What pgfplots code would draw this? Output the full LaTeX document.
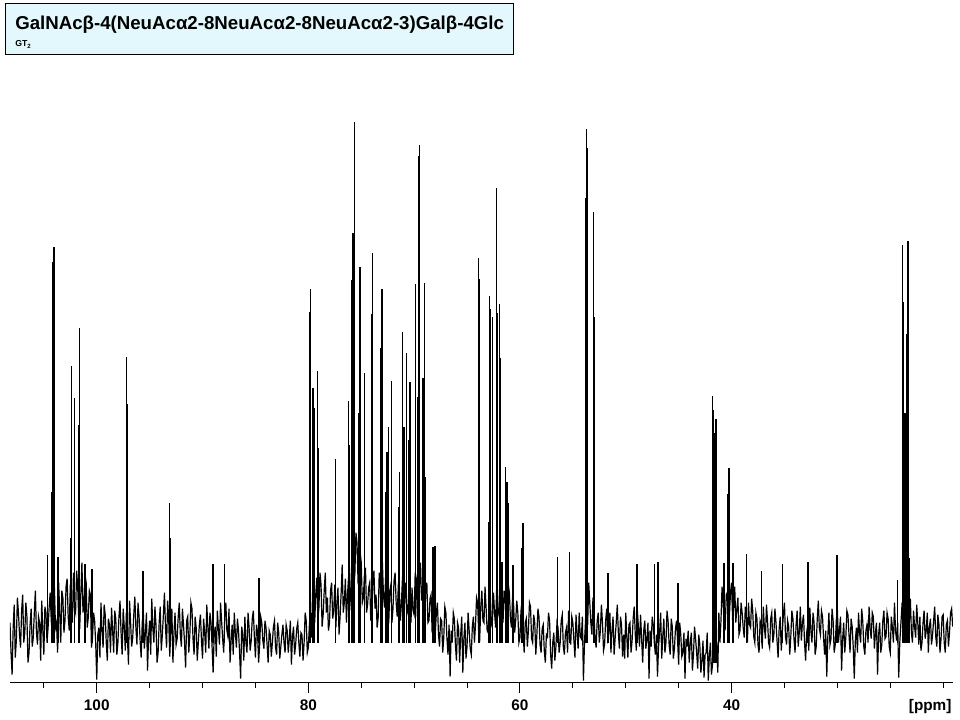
\documentclass[border=0pt]{standalone}
\usepackage{fontspec}
\setmainfont{Liberation Sans}
\usepackage{pgfplots}
\pgfplotsset{compat=1.18}
\definecolor{boxfill}{RGB}{226,248,252}

% peak lines: position (ppm), foot and top (px above the axis line)
\pgfplotstableread{
x      b   t
104.66 40 128
104.22 40 191
104.13 40 421
104.04 40 436
103.66 40 126
102.49 40 145
102.39 40 317
102.08 40 285
101.70 40 258
101.61 40 355
101.13 40 119
100.47 40 114
97.19  40 326
97.07  40 279
95.62  40 112
93.10  40 180
93.04  40 145
89.01  40 119
87.90  40 119
84.66  40 105
79.87  40 371
79.81  40 394
79.56  40 295
79.47  40 275
79.14  40 312
79.05  40 235
77.44  40 224
76.19  40 282
76.09  40 238
75.90  40 403
75.78  40 450
75.70  40 420
75.62  40 561
75.21  40 270
75.12  40 416
75.05  40 357
74.67  40 310
74.01  40 369
73.92  40 430
73.16  40 335
73.04  40 394
72.69  40 191
72.57  40 231
72.41  40 256
72.15  40 302
71.49  40 176
71.39  40 211
71.08  40 351
70.96  40 256
70.70  40 330
70.54  40 243
70.39  40 301
69.88  40 399
69.69  40 286
69.57  40 527
69.48  40 538
69.17  40 305
69.03  40 400
68.98  40 206
68.22  40 136
68.03  40 137
63.90  40 425
63.83  40 404
62.93  40 161
62.86  40 387
62.77  40 374
62.61  40 366
62.23  40 495
62.15  40 370
61.94  40 379
61.85  40 325
61.70  40 121
61.35  40 216
61.23  40 201
61.09  40 180
60.66  40 118
59.81  40 135
59.71  40 160
56.46  40 126
55.30  40 131
53.79  40 485
53.72  40 554
53.63  40 535
53.03  40 471
52.97  40 366
51.68  40 110
48.94  40 119
47.27  40 119
46.96  40 121
45.07  40 100
41.80  20 287
41.70  20 273
41.58  20 250
41.48  20 264
40.73  40 120
40.66  40 120
40.35  40 189
40.25  40 215
40.19  40 135
39.87  40 120
38.60  40 129
37.19  40 112
35.20  40 119
32.78  40 121
30.04  40 128
24.33  40 103
23.86  40 438
23.77  40 381
23.72  40 270
23.62  40 265
23.52  40 270
23.45  40 268
23.42  40 349
23.33  40 442
23.17  40 125
}\peaks

\begin{document}
\begin{tikzpicture}
\useasboundingbox (0,0) rectangle (720pt,-540pt);
\draw[line width=0.75pt, fill=boxfill] (3.75pt,-3pt) rectangle (384.75pt,-41.25pt);
\node[anchor=base west, inner sep=0, font=\bfseries\fontsize{14}{16}\selectfont]
  at (11.25pt,-22pt) {GalNAcβ-4(NeuAcα2-8NeuAcα2-8NeuAcα2-3)Galβ-4Glc};
\node[anchor=base west, inner sep=0, font=\bfseries\fontsize{6.5}{7}\selectfont]
  at (11.25pt,-35.25pt) {GT\textsubscript{2}};

\begin{axis}[
  at={(7.5pt,-512pt)}, anchor=south west,
  scale only axis, width=707.25pt, height=437pt,
  x dir=reverse, xmin=19.07, xmax=108.2, ymin=0, ymax=582.7,
  axis x line*=bottom, axis y line=none,
  x axis line style={-, line width=0.75pt},
  xtick={100,80,60,40}, xticklabels={100,80,60,40},
  minor xtick={105,95,90,85,75,70,65,55,50,45,35,30,25,20},
  tick align=outside, major tick length=7.5pt, minor tick length=4pt,
  tick style={black, line width=0.75pt},
  xticklabel style={font=\bfseries\fontsize{11.5}{12}\selectfont, anchor=base, yshift=-13pt},
  ytick=\empty,
]
\addplot[black, line width=0.9pt] coordinates {
(108.2,60) (108.1,30) (108.0,8) (107.9,55) (107.8,78) (107.7,25) (107.6,42) (107.5,85) (107.4,70) (107.3,48)
(107.2,35) (107.1,72) (107.0,88) (106.9,40) (106.8,50) (106.7,80) (106.6,66) (106.5,20) (106.4,30) (106.3,58)
(106.2,74) (106.1,36) (106.0,45) (105.9,70) (105.8,92) (105.7,50) (105.6,38) (105.5,66) (105.4,60) (105.3,22)
(105.2,82) (105.1,54) (105.0,28) (104.9,76) (104.8,70) (104.7,40) (104.6,55) (104.5,75) (104.4,90) (104.3,62)
(104.2,48) (104.1,82) (104.0,95) (103.9,55) (103.8,60) (103.7,30) (103.6,100) (103.5,70) (103.4,40) (103.3,92)
(103.2,85) (103.1,50) (103.0,62) (102.9,96) (102.8,104) (102.7,66) (102.6,52) (102.5,98) (102.4,78) (102.3,60)
(102.2,110) (102.1,75) (102.0,70) (101.9,112) (101.8,96) (101.7,62) (101.6,58) (101.5,90) (101.4,120) (101.3,70)
(101.2,80) (101.1,108) (101.0,100) (100.9,55) (100.8,65) (100.7,92) (100.6,88) (100.5,35) (100.4,45) (100.3,70)
(100.2,62) (100.1,40) (100.0,3) (99.9,48) (99.8,55) (99.7,25) (99.6,80) (99.5,52) (99.4,35) (99.3,78)
(99.2,68) (99.1,40) (99.0,22) (98.9,64) (98.8,58) (98.7,30) (98.6,75) (98.5,52) (98.4,30) (98.3,72)
(98.2,64) (98.1,28) (98.0,40) (97.9,66) (97.8,82) (97.7,50) (97.6,28) (97.5,74) (97.4,56) (97.3,32)
(97.2,70) (97.1,45) (97.0,18) (96.9,82) (96.8,60) (96.7,36) (96.6,45) (96.5,68) (96.4,86) (96.3,55)
(96.2,38) (96.1,80) (96.0,66) (95.9,42) (95.8,25) (95.7,60) (95.6,72) (95.5,34) (95.4,50) (95.3,70)
(95.2,12) (95.1,46) (95.0,62) (94.9,28) (94.8,84) (94.7,55) (94.6,40) (94.5,76) (94.4,58) (94.3,20)
(94.2,30) (94.1,60) (94.0,76) (93.9,32) (93.8,48) (93.7,68) (93.6,90) (93.5,55) (93.4,35) (93.3,82)
(93.2,64) (93.1,26) (93.0,52) (92.9,74) (92.8,20) (92.7,50) (92.6,70) (92.5,38) (92.4,44) (92.3,66)
(92.2,80) (92.1,48) (92.0,36) (91.9,74) (91.8,58) (91.7,40) (91.6,15) (91.5,62) (91.4,66) (91.3,30)
(91.2,48) (91.1,80) (91.0,74) (90.9,44) (90.8,28) (90.7,66) (90.6,55) (90.5,22) (90.4,40) (90.3,58)
(90.2,68) (90.1,42) (90.0,24) (89.9,64) (89.8,50) (89.7,30) (89.6,78) (89.5,56) (89.4,34) (89.3,70)
(89.2,60) (89.1,36) (89.0,10) (88.9,48) (88.8,56) (88.7,26) (88.6,72) (88.5,54) (88.4,38) (88.3,80)
(88.2,62) (88.1,44) (88.0,30) (87.9,66) (87.8,80) (87.7,52) (87.6,46) (87.5,74) (87.4,20) (87.3,42)
(87.2,58) (87.1,28) (87.0,70) (86.9,50) (86.8,35) (86.7,64) (86.6,52) (86.5,30) (86.4,4) (86.3,56)
(86.2,48) (86.1,22) (86.0,66) (85.9,40) (85.8,30) (85.7,70) (85.6,55) (85.5,32) (85.4,42) (85.3,64)
(85.2,72) (85.1,45) (85.0,25) (84.9,58) (84.8,50) (84.7,20) (84.6,38) (84.5,66) (84.4,60) (84.3,42)
(84.2,34) (84.1,62) (84.0,55) (83.9,38) (83.8,20) (83.7,52) (83.6,48) (83.5,26) (83.4,40) (83.3,56)
(83.2,62) (83.1,35) (83.0,28) (82.9,60) (82.8,50) (82.7,24) (82.6,36) (82.5,48) (82.4,58) (82.3,40)
(82.2,30) (82.1,58) (82.0,52) (81.9,30) (81.8,44) (81.7,62) (81.6,18) (81.5,46) (81.4,56) (81.3,28)
(81.2,38) (81.1,54) (81.0,60) (80.9,40) (80.8,26) (80.7,50) (80.6,48) (80.5,22) (80.4,40) (80.3,70)
(80.2,62) (80.1,30) (80.0,35) (79.9,58) (79.8,70) (79.7,45) (79.6,90) (79.5,72) (79.4,60) (79.3,88)
(79.2,105) (79.1,64) (79.0,75) (78.9,110) (78.8,98) (78.7,56) (78.6,68) (78.5,92) (78.4,110) (78.3,70)
(78.2,85) (78.1,52) (78.0,60) (77.9,92) (77.8,100) (77.7,64) (77.6,72) (77.5,98) (77.4,55) (77.3,80)
(77.2,95) (77.1,48) (77.0,66) (76.9,90) (76.8,118) (76.7,70) (76.6,80) (76.5,104) (76.4,60) (76.3,88)
(76.2,105) (76.1,72) (76.0,90) (75.9,120) (75.8,130) (75.7,96) (75.6,110) (75.5,150) (75.4,140) (75.3,100)
(75.2,95) (75.1,130) (75.0,120) (74.9,80) (74.8,85) (74.7,108) (74.6,115) (74.5,70) (74.4,78) (74.3,95)
(74.2,100) (74.1,62) (74.0,70) (73.9,98) (73.8,112) (73.7,74) (73.6,88) (73.5,55) (73.4,65) (73.3,110)
(73.2,96) (73.1,70) (73.0,120) (72.9,88) (72.8,75) (72.7,105) (72.6,90) (72.5,58) (72.4,60) (72.3,92)
(72.2,98) (72.1,60) (72.0,74) (71.9,102) (71.8,110) (71.7,80) (71.6,66) (71.5,96) (71.4,92) (71.3,62)
(71.2,80) (71.1,106) (71.0,58) (70.9,84) (70.8,100) (70.7,68) (70.6,72) (70.5,94) (70.4,85) (70.3,60)
(70.2,95) (70.1,72) (70.0,68) (69.9,110) (69.8,104) (69.7,66) (69.6,78) (69.5,96) (69.4,120) (69.3,82)
(69.2,90) (69.1,115) (69.0,70) (68.9,92) (68.8,100) (68.7,60) (68.6,62) (68.5,84) (68.4,88) (68.3,50)
(68.2,72) (68.1,42) (68.0,50) (67.9,70) (67.8,80) (67.7,48) (67.6,36) (67.5,64) (67.4,62) (67.3,30)
(67.2,45) (67.1,76) (67.0,70) (66.9,44) (66.8,28) (66.7,58) (66.6,6) (66.5,52) (66.4,40) (66.3,70)
(66.2,64) (66.1,38) (66.0,22) (65.9,60) (65.8,55) (65.7,20) (65.6,48) (65.5,66) (65.4,10) (65.3,44)
(65.2,60) (65.1,24) (65.0,36) (64.9,70) (64.8,52) (64.7,34) (64.6,28) (64.5,56) (64.4,66) (64.3,40)
(64.2,58) (64.1,85) (64.0,80) (63.9,50) (63.8,45) (63.7,76) (63.6,92) (63.5,62) (63.4,60) (63.3,96)
(63.2,75) (63.1,52) (63.0,50) (62.9,80) (62.8,88) (62.7,58) (62.6,62) (62.5,90) (62.4,70) (62.3,55)
(62.2,95) (62.1,66) (62.0,72) (61.9,100) (61.8,105) (61.7,78) (61.6,60) (61.5,92) (61.4,85) (61.3,58)
(61.2,68) (61.1,98) (61.0,90) (60.9,64) (60.8,55) (60.7,86) (60.6,78) (60.5,50) (60.4,62) (60.3,82)
(60.2,70) (60.1,40) (60.0,45) (59.9,72) (59.8,82) (59.7,50) (59.6,30) (59.5,60) (59.4,64) (59.3,36)
(59.2,52) (59.1,80) (59.0,76) (58.9,44) (58.8,40) (58.7,68) (58.6,60) (58.5,28) (58.4,48) (58.3,74)
(58.2,66) (58.1,38) (58.0,30) (57.9,54) (57.8,58) (57.7,32) (57.6,20) (57.5,48) (57.4,46) (57.3,70)
(57.2,62) (57.1,28) (57.0,14) (56.9,40) (56.8,50) (56.7,22) (56.6,36) (56.5,60) (56.4,55) (56.3,30)
(56.2,40) (56.1,62) (56.0,68) (55.9,36) (55.8,28) (55.7,50) (55.6,55) (55.5,30) (55.4,72) (55.3,48)
(55.2,38) (55.1,66) (55.0,60) (54.9,42) (54.8,25) (54.7,68) (54.6,50) (54.5,34) (54.4,70) (54.3,46)
(54.2,44) (54.1,66) (54.0,2) (53.9,40) (53.8,62) (53.7,90) (53.6,58) (53.5,100) (53.4,80) (53.3,60)
(53.2,48) (53.1,85) (53.0,66) (52.9,45) (52.8,35) (52.7,62) (52.6,70) (52.5,40) (52.4,52) (52.3,78)
(52.2,60) (52.1,32) (52.0,38) (51.9,62) (51.8,74) (51.7,44) (51.6,50) (51.5,70) (51.4,30) (51.3,52)
(51.2,66) (51.1,28) (51.0,45) (50.9,60) (50.8,78) (50.7,50) (50.6,34) (50.5,66) (50.4,58) (50.3,26)
(50.2,48) (50.1,24) (50.0,70) (49.9,46) (49.8,25) (49.7,58) (49.6,60) (49.5,30) (49.4,42) (49.3,64)
(49.2,76) (49.1,48) (49.0,32) (48.9,72) (48.8,55) (48.7,36) (48.6,68) (48.5,44) (48.4,20) (48.3,52)
(48.2,62) (48.1,34) (48.0,44) (47.9,60) (47.8,4) (47.7,52) (47.6,36) (47.5,66) (47.4,58) (47.3,40)
(47.2,28) (47.1,48) (47.0,6) (46.9,36) (46.8,50) (46.7,70) (46.6,24) (46.5,46) (46.4,64) (46.3,30)
(46.2,40) (46.1,72) (46.0,62) (45.9,38) (45.8,28) (45.7,64) (45.6,56) (45.5,24) (45.4,34) (45.3,54)
(45.2,62) (45.1,42) (45.0,18) (44.9,60) (44.8,48) (44.7,26) (44.6,30) (44.5,50) (44.4,4) (44.3,44)
(44.2,36) (44.1,52) (44.0,20) (43.9,40) (43.8,50) (43.7,12) (43.6,28) (43.5,56) (43.4,44) (43.3,30)
(43.2,14) (43.1,48) (43.0,38) (42.9,10) (42.8,22) (42.7,42) (42.6,5) (42.5,28) (42.4,30) (42.3,50)
(42.2,2) (42.1,26) (42.0,40) (41.9,8) (41.8,18) (41.7,45) (41.6,56) (41.5,30) (41.4,35) (41.3,10)
(41.2,70) (41.1,40) (41.0,62) (40.9,96) (40.8,80) (40.7,58) (40.6,55) (40.5,88) (40.4,90) (40.3,60)
(40.2,68) (40.1,90) (40.0,100) (39.9,62) (39.8,75) (39.7,96) (39.6,60) (39.5,74) (39.4,85) (39.3,48)
(39.2,52) (39.1,80) (39.0,70) (38.9,55) (38.8,45) (38.7,76) (38.6,66) (38.5,40) (38.4,80) (38.3,58)
(38.2,55) (38.1,84) (38.0,72) (37.9,46) (37.8,40) (37.7,70) (37.6,64) (37.5,38) (37.4,30) (37.3,62)
(37.2,58) (37.1,34) (37.0,76) (36.9,56) (36.8,44) (36.7,78) (36.6,62) (36.5,40) (36.4,35) (36.3,64)
(36.2,70) (36.1,40) (36.0,48) (35.9,74) (35.8,60) (35.7,42) (35.6,25) (35.5,54) (35.4,66) (35.3,32)
(35.2,52) (35.1,68) (35.0,80) (34.9,46) (34.8,38) (34.7,62) (34.6,56) (34.5,28) (34.4,46) (34.3,72)
(34.2,64) (34.1,44) (34.0,30) (33.9,58) (33.8,72) (33.7,36) (33.6,50) (33.5,76) (33.4,42) (33.3,60)
(33.2,68) (33.1,40) (33.0,22) (32.9,50) (32.8,58) (32.7,32) (32.6,75) (32.5,52) (32.4,40) (32.3,70)
(32.2,60) (32.1,28) (32.0,36) (31.9,64) (31.8,82) (31.7,54) (31.6,48) (31.5,72) (31.4,66) (31.3,44)
(31.2,28) (31.1,52) (31.0,6) (30.9,46) (30.8,70) (30.7,38) (30.6,44) (30.5,74) (30.4,62) (30.3,30)
(30.2,38) (30.1,62) (30.0,74) (29.9,40) (29.8,52) (29.7,66) (29.6,12) (29.5,44) (29.4,60) (29.3,30)
(29.2,45) (29.1,72) (29.0,68) (28.9,48) (28.8,30) (28.7,64) (28.6,56) (28.5,36) (28.4,4) (28.3,42)
(28.2,55) (28.1,30) (28.0,70) (27.9,50) (27.8,40) (27.7,74) (27.6,62) (27.5,36) (27.4,28) (27.3,52)
(27.2,58) (27.1,40) (27.0,76) (26.9,54) (26.8,44) (26.7,70) (26.6,66) (26.5,34) (26.4,50) (26.3,60)
(26.2,8) (26.1,48) (26.0,60) (25.9,30) (25.8,38) (25.7,62) (25.6,72) (25.5,44) (25.4,46) (25.3,70)
(25.2,64) (25.1,36) (25.0,30) (24.9,66) (24.8,56) (24.7,40) (24.6,80) (24.5,52) (24.4,42) (24.3,60)
(24.2,5) (24.1,40) (24.0,58) (23.9,76) (23.8,70) (23.7,100) (23.6,90) (23.5,110) (23.4,80) (23.3,95)
(23.2,62) (23.1,84) (23.0,50) (22.9,40) (22.8,72) (22.7,56) (22.6,45) (22.5,78) (22.4,60) (22.3,38)
(22.2,66) (22.1,32) (22.0,40) (21.9,60) (21.8,72) (21.7,44) (21.6,52) (21.5,70) (21.4,30) (21.3,56)
(21.2,64) (21.1,38) (21.0,48) (20.9,62) (20.8,76) (20.7,46) (20.6,36) (20.5,68) (20.4,58) (20.3,30)
(20.2,44) (20.1,66) (20.0,68) (19.9,40) (19.8,30) (19.7,58) (19.6,62) (19.5,36) (19.4,50) (19.3,70)
(19.2,74) (19.1,56)
};
\addplot[black, line width=1.1pt, quiver={u=0, v=\thisrow{t}-\thisrow{b}}]
  table[x=x, y=b] {\peaks};
\end{axis}

\node[anchor=base east, inner sep=0, font=\bfseries\fontsize{11.5}{12}\selectfont]
  at (713.8pt,-532.5pt) {[ppm]};
\end{tikzpicture}
\end{document}
